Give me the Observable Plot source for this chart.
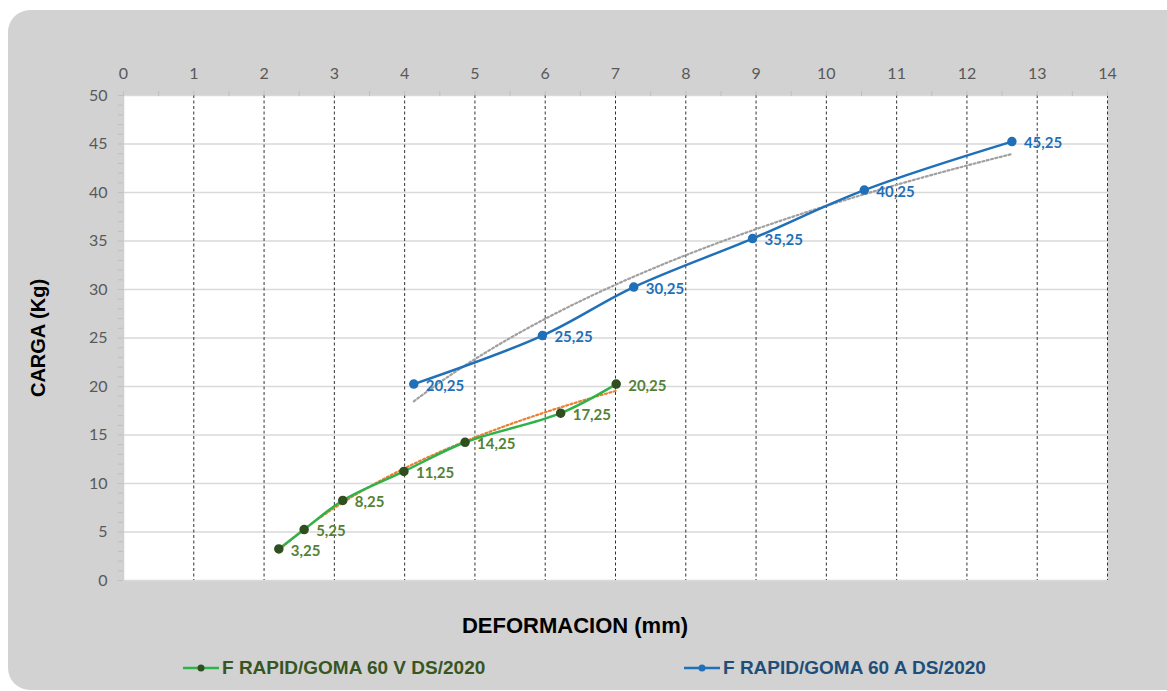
<!DOCTYPE html>
<html><head><meta charset="utf-8">
<script src="https://cdn.jsdelivr.net/npm/d3@7"></script>
<script src="https://cdn.jsdelivr.net/npm/@observablehq/plot@0.6"></script>
<style>
body{margin:0;width:1167px;height:691px;overflow:hidden;position:relative;background:#fff;font-family:"Liberation Sans",Arial,sans-serif;}
#bg{position:absolute;left:8px;top:10px;width:1200px;height:680px;background:#d2d2d2;border-radius:22px;}
#chart{position:absolute;left:0;top:0;}
#xlabel{position:absolute;top:613px;left:375px;width:400px;text-align:center;font-weight:bold;font-size:22px;color:#000;}
.leg{position:absolute;top:657px;display:flex;align-items:center;font-weight:bold;font-size:19px;white-space:nowrap;}
.leg svg{margin-right:3px;}
</style>
</head><body>
<div id="bg"></div>
<div id="chart"></div>
<div id="xlabel">DEFORMACION (mm)</div>
<div class="leg" id="legG" style="left:183px;color:#375623;"></div>
<div class="leg" id="legB" style="left:684px;color:#1f4e79;"></div>
<script>
// Data
const seriesNames = ["F RAPID/GOMA 60 V DS/2020", "F RAPID/GOMA 60 A DS/2020"];
const defGreen = [2.21, 2.57, 3.12, 3.99, 4.86, 6.22, 7.01];
const cargaGreen = [3.25, 5.25, 8.25, 11.25, 14.25, 17.25, 20.25];
const defBlue = [4.13, 5.96, 7.26, 8.95, 10.54, 12.64];
const cargaBlue = [20.25, 25.25, 30.25, 35.25, 40.25, 45.25];
const xTicks = [0,1,2,3,4,5,6,7,8,9,10,11,12,13,14];
const yTicks = [0,5,10,15,20,25,30,35,40,45,50];

const colGreenLine = "#2db34a", colGreenDot = "#2f4f1f", colGreenText = "#548235";
const colBlue = "#1f70b8", colBlueText = "#1f70b8";

const green = defGreen.map((x, i) => ({x, y: cargaGreen[i]}));
const blue = defBlue.map((x, i) => ({x, y: cargaBlue[i]}));

// logarithmic trendline (least squares fit on ln x)
function logFit(data, n = 80) {
  const lx = data.map(d => Math.log(d.x));
  const ys = data.map(d => d.y);
  const mx = d3.mean(lx), my = d3.mean(ys);
  const a = d3.sum(lx, (v, i) => (v - mx) * (ys[i] - my)) / d3.sum(lx, v => (v - mx) ** 2);
  const b = my - a * mx;
  const [x0, x1] = d3.extent(data, d => d.x);
  return d3.range(n + 1).map(i => { const x = x0 + (x1 - x0) * i / n; return {x, y: a * Math.log(x) + b}; });
}
const fmt = v => String(v).replace(".", ",");

const plot = Plot.plot({
  width: 1167, height: 600,
  marginLeft: 123, marginRight: 60, marginTop: 95, marginBottom: 20,
  x: {domain: [0, 14], label: null},
  y: {domain: [0, 50], label: null},
  style: {background: "transparent", fontFamily: "Lato, sans-serif", fontSize: "16px", color: "#595959"},
  marks: [
    Plot.frame({fill: "white", stroke: null}),
    Plot.gridY(yTicks, {stroke: "#d9d9d9", strokeOpacity: 1, strokeWidth: 1.5}),
    Plot.ruleX([0], {stroke: "#d0d0d0", strokeWidth: 1.5}),
    Plot.gridX(xTicks.slice(1), {stroke: "#333", strokeOpacity: 1, strokeDasharray: "3,2.5", strokeWidth: 1}),
    Plot.axisX(d3.range(0, 14.01, 0.5), {anchor: "top", tickSize: 5, tickFormat: () => "", stroke: "#bfbfbf", label: null}),
    Plot.axisX(xTicks, {anchor: "top", tickSize: 0, tickPadding: 17, fill: "#595959", fontSize: 16, label: null}),
    Plot.axisY(d3.range(0, 51, 1), {anchor: "left", tickSize: 5, tickFormat: () => "", stroke: "#bfbfbf", label: null}),
    Plot.axisY(yTicks, {anchor: "left", tickSize: 0, tickPadding: 16, fill: "#595959", fontSize: 16, label: null}),
    Plot.line(logFit(green), {x: "x", y: "y", stroke: "#ed7d31", strokeWidth: 2.2, strokeDasharray: "2,2.5"}),
    Plot.line(logFit(blue), {x: "x", y: "y", stroke: "#a0a0a0", strokeWidth: 2.2, strokeDasharray: "2,2.5"}),
    Plot.line(green, {x: "x", y: "y", stroke: colGreenLine, strokeWidth: 2.5, curve: "catmull-rom"}),
    Plot.line(blue, {x: "x", y: "y", stroke: colBlue, strokeWidth: 2.5, curve: "catmull-rom"}),
    Plot.dot(green, {x: "x", y: "y", r: 4, fill: colGreenDot, stroke: colGreenDot}),
    Plot.dot(blue, {x: "x", y: "y", r: 4, fill: colBlue, stroke: colBlue}),
    Plot.text(green, {x: "x", y: "y", text: d => fmt(d.y), dx: 12, dy: 2, textAnchor: "start", fill: colGreenText, fontWeight: "bold", fontSize: 15, fontFamily: "Lato, sans-serif"}),
    Plot.text(blue, {x: "x", y: "y", text: d => fmt(d.y), dx: 12, dy: 2, textAnchor: "start", fill: colBlueText, fontWeight: "bold", fontSize: 15, fontFamily: "Lato, sans-serif"}),
    Plot.text(["CARGA (Kg)"], {frameAnchor: "left", dx: -85, rotate: -90, textAnchor: "middle", fontSize: 20, fontWeight: "bold", fontFamily: "Liberation Sans, Arial, sans-serif", fill: "#000"})
  ]
});
document.getElementById("chart").appendChild(plot);

function legendIcon(line, dot) {
  return `<svg width="36" height="12"><line x1="0" y1="6" x2="36" y2="6" stroke="${line}" stroke-width="2.5"/><circle cx="18" cy="6" r="3.5" fill="${dot}"/></svg>`;
}
document.getElementById("legG").innerHTML = legendIcon(colGreenLine, colGreenDot) + seriesNames[0];
document.getElementById("legB").innerHTML = legendIcon(colBlue, colBlue) + seriesNames[1];
</script>
</body></html>
